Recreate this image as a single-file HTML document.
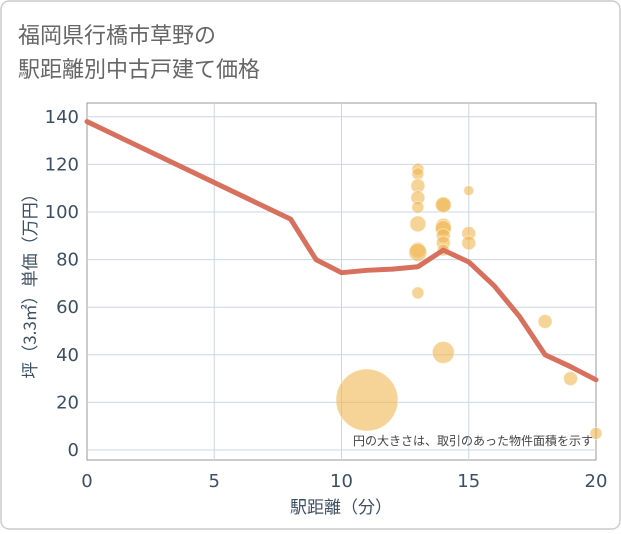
<!DOCTYPE html>
<html><head><meta charset="utf-8"><style>
body{margin:0;background:#fff;}
#c{position:relative;width:621px;height:530px;font-family:"DejaVu Sans","Noto Sans CJK JP",sans-serif;}
</style></head><body>
<div id="c">
<svg id="s" width="621" height="530" xmlns="http://www.w3.org/2000/svg">
<rect x="1" y="1" width="619" height="528" rx="8" fill="#fff" stroke="#ccc" stroke-width="1.5"/>
<text x="18" y="43" font-size="22" fill="#666" font-family="Noto Sans CJK JP, sans-serif">福岡県行橋市草野の</text>
<text x="18" y="77" font-size="22" fill="#666" font-family="Noto Sans CJK JP, sans-serif">駅距離別中古戸建て価格</text>
<g id="grid"></g><g id="bub"></g><g id="ln"></g><g id="ax"></g>
<text x="593" y="445" font-size="12" fill="#444" text-anchor="end" font-family="Noto Sans CJK JP, sans-serif">円の大きさは、取引のあった物件面積を示す</text>
<text x="341" y="513" font-size="17" fill="#3d4f63" text-anchor="middle" font-family="Noto Sans CJK JP, sans-serif">駅距離（分）</text>
<text transform="translate(36,282) rotate(-90)" font-size="17" fill="#3d4f63" text-anchor="middle" font-family="Noto Sans CJK JP, sans-serif">坪（3.3㎡）単価（万円）</text>
</svg></div>
<script>
const lineX=[0,8,9,10,11,12,13,14,15,16,17,18,19,20];
const lineY=[138,97,80,74.5,75.5,76,77,84,79,69,56,40,35,29.5];
const bubX=[13,13,13,13,13,13,13,13,13,14,14,14,14,14,14,14,14,15,15,15,18,19,20,11];
const bubY=[118,116,111,106,102,95,84,83,66,103,103,94,93,90,87,84,41,109,91,87,54,30,7,21];
const bubR=[6,6,7,7,6,8,8,9,6,7,8,8,8,7,7,6,11,5,7,7,7,7,6,31];
const xTicks=[0,5,10,15,20];
const yTicks=[0,20,40,60,80,100,120,140];
const L=87,R=596,T=103,B=460;
const xs=v=>L+(R-L)*v/20;
const ys=v=>450-v*2.38;
const NS="http://www.w3.org/2000/svg";
function mk(p,t,a){const e=document.createElementNS(NS,t);for(const k in a)e.setAttribute(k,a[k]);document.getElementById(p).appendChild(e);return e;}
const f=mk("grid","rect",{x:L,y:T,width:R-L,height:B-T,fill:"none",stroke:"#999","stroke-width":1});


yTicks.forEach(v=>{const g=mk("grid","line",{x1:L,x2:R,y1:ys(v),y2:ys(v),stroke:"#c9d7e6","stroke-width":1});


const t=mk("ax","text",{x:L-8,y:ys(v)+6,"font-size":18,fill:"#3d4f63","text-anchor":"end"});t.textContent=v;

});
xTicks.forEach(v=>{if(v>0&&v<20){const g=mk("grid","line",{x1:xs(v),x2:xs(v),y1:T,y2:B,stroke:"#c9d7e6","stroke-width":1});

}
const t=mk("ax","text",{x:xs(v),y:487,"font-size":18,fill:"#3d4f63","text-anchor":"middle"});t.textContent=v;

});
bubX.forEach((x,i)=>{const c=mk("bub","circle",{cx:xs(x),cy:ys(bubY[i]),r:bubR[i],fill:"#f0b550","fill-opacity":0.6,stroke:"#fff","stroke-opacity":0.5});

});
const p=mk("ln","polyline",{points:lineX.map((x,i)=>xs(x)+","+ys(lineY[i])).join(" "),fill:"none",stroke:"#d8705e","stroke-width":5,"stroke-linejoin":"round","stroke-linecap":"round"});


</script>
</body></html>
